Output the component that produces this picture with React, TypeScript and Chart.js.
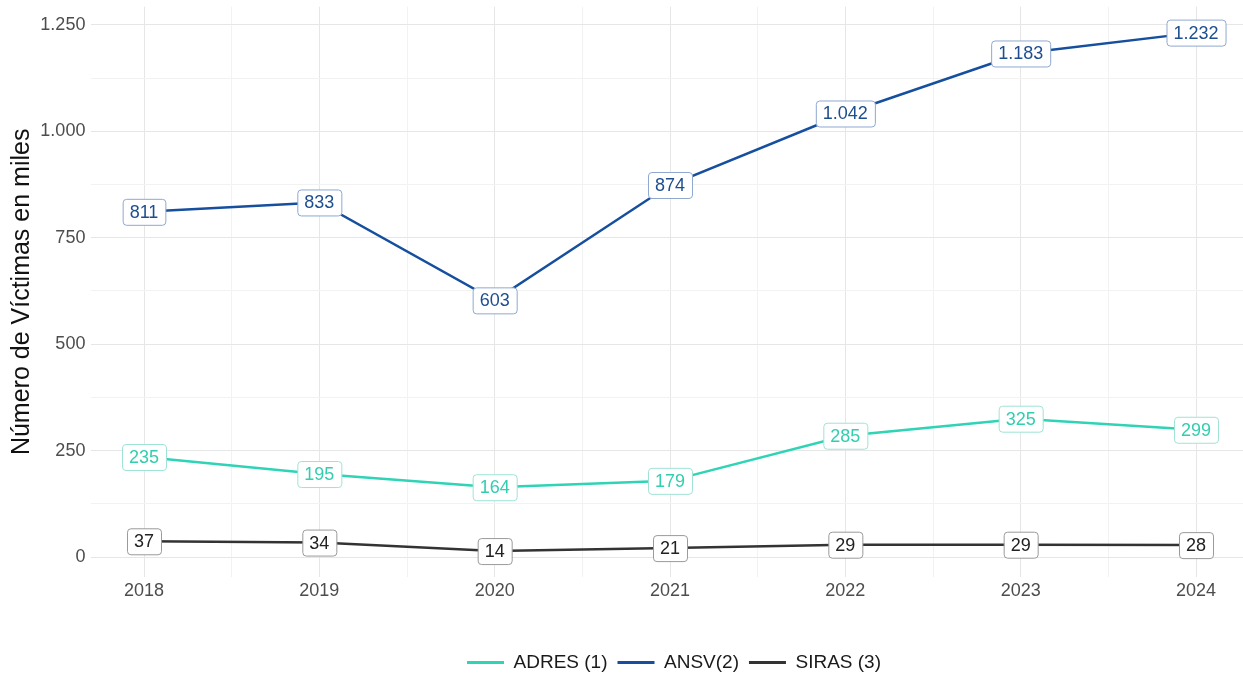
import React, { useEffect, useRef } from "react";
import { Chart, registerables } from "chart.js";

Chart.register(...registerables);

const years = [2018, 2019, 2020, 2021, 2022, 2023, 2024];
const adres = [235, 195, 164, 179, 285, 325, 299];
const ansv = [811, 833, 603, 874, 1042, 1183, 1232];
const siras = [37, 34, 14, 21, 29, 29, 28];
const seriesNames = ["ADRES (1)", "ANSV(2)", "SIRAS (3)"];
const yTickValues = [0, 125, 250, 375, 500, 625, 750, 875, 1000, 1125, 1250];
const xTickValues = [2018, 2018.5, 2019, 2019.5, 2020, 2020.5, 2021, 2021.5, 2022, 2022.5, 2023, 2023.5, 2024];
const yAxisTitle = "Número de Víctimas en miles";

const lineColors = ["#2fd3b5", "#154f9e", "#333333"];
const labelTextColors = ["#33cdb0", "#1d4e8f", "#222222"];
const labelBorderColors = ["#9fe3d6", "#8ea8d0", "#9a9a9a"];

const FONT = '"Liberation Sans", Arial, Helvetica, sans-serif';

function fmt(v: number): string {
  const s = Math.round(v).toString();
  return s.replace(/\B(?=(\d{3})+(?!\d))/g, ".");
}

const labelPlugin = {
  id: "boxLabels",
  afterDatasetsDraw(chart: any) {
    const ctx = chart.ctx;
    ctx.save();
    ctx.font = `18px ${FONT}`;
    ctx.textAlign = "center";
    ctx.textBaseline = "middle";
    chart.data.datasets.forEach((ds: any, i: number) => {
      const meta = chart.getDatasetMeta(i);
      meta.data.forEach((pt: any, j: number) => {
        const text = fmt(ds.data[j].y);
        const tw = ctx.measureText(text).width;
        const w = tw + 14;
        const h = 26;
        const x = pt.x - w / 2;
        const y = pt.y - h / 2;
        ctx.beginPath();
        ctx.roundRect(x + 0.5, y + 0.5, w, h, 3.5);
        ctx.fillStyle = "#ffffff";
        ctx.fill();
        ctx.lineWidth = 1;
        ctx.strokeStyle = labelBorderColors[i];
        ctx.stroke();
        ctx.fillStyle = labelTextColors[i];
        ctx.fillText(text, pt.x, pt.y + 1);
      });
    });
    ctx.restore();
  },
};

// centre the legend under the plot panel rather than the whole canvas
const legendShift = {
  id: "legendShift",
  afterLayout(chart: any) {
    const lg = chart.legend;
    if (!lg) return;
    const panelCenter = (chart.chartArea.left + chart.scales.x.getPixelForValue(2024.3)) / 2 + 4;
    const d = panelCenter - (lg.left + lg.right) / 2;
    lg.left += d;
    lg.right += d;
  },
};

export default function App() {
  const ref = useRef<HTMLCanvasElement>(null);
  useEffect(() => {
    document.body.style.margin = "0";
    const mk = (vals: number[]) => years.map((yr, i) => ({ x: yr, y: vals[i] }));
    const all = [adres, ansv, siras];
    const chart = new Chart(ref.current!, {
      type: "line",
      data: {
        datasets: all.map((vals, i) => ({
          label: seriesNames[i],
          data: mk(vals),
          borderColor: lineColors[i],
          backgroundColor: lineColors[i],
          borderWidth: 2.5,
          pointRadius: 0,
          tension: 0,
        })),
      },
      options: {
        responsive: false,
        animation: false,
        events: [],
        layout: { padding: { top: 6.7, right: 0, left: 0, bottom: 0 } },
        font: { family: FONT },
        plugins: {
          tooltip: { enabled: false },
          legend: {
            position: "bottom",
            maxHeight: 32,
            labels: {
              font: { size: 19, family: FONT },
              color: "#1a1a1a",
              boxWidth: 37,
              boxHeight: 3,
              padding: 10,
              generateLabels: (c: any) =>
                c.data.datasets.map((ds: any, i: number) => ({
                  text: ds.label,
                  fillStyle: ds.borderColor,
                  strokeStyle: ds.borderColor,
                  lineWidth: 0,
                  hidden: false,
                  datasetIndex: i,
                  fontColor: "#1a1a1a",
                })),
            },
          },
        },
        scales: {
          x: {
            type: "linear",
            min: 2017.7,
            max: 2024.268,
            afterBuildTicks: (s: any) => {
              s.ticks = xTickValues.map((v) => ({ value: v }));
            },
            afterFit: (s: any) => {
              s.height = 66;
              s.paddingLeft = 0;
              s.paddingRight = 0;
            },
            grid: {
              drawTicks: false,
              color: (c: any) => (c.tick && Number.isInteger(c.tick.value) ? "#e6e6e6" : "#f2f2f2"),
            },
            border: { display: false },
            ticks: {
              autoSkip: false,
              maxRotation: 0,
              padding: 3,
              color: "#4d4d4d",
              font: { size: 18, family: FONT },
              callback: (v: any) => (Number.isInteger(v) ? String(v) : ""),
            },
          },
          y: {
            type: "linear",
            min: -46.9,
            max: 1292.9,
            afterBuildTicks: (s: any) => {
              s.ticks = yTickValues.map((v) => ({ value: v }));
            },
            afterFit: (s: any) => {
              s.width = 91.4;
              s.paddingTop = 0;
              s.paddingBottom = 0;
            },
            grid: {
              drawTicks: false,
              color: (c: any) => (c.tick && c.tick.value % 250 === 0 ? "#e6e6e6" : "#f2f2f2"),
            },
            border: { display: false },
            title: {
              display: true,
              text: yAxisTitle,
              color: "#111111",
              font: { size: 25, family: FONT, lineHeight: 1 },
              padding: { top: 9.5, bottom: 0 },
            },
            ticks: {
              padding: 6,
              color: "#4d4d4d",
              font: { size: 18, family: FONT },
              callback: (v: any) => (v % 250 === 0 ? fmt(v) : ""),
            },
          },
        },
      },
      plugins: [labelPlugin, legendShift],
    });
    return () => chart.destroy();
  }, []);
  return (
    <div style={{ position: "absolute", left: 0, top: 0, width: 1243, height: 675 }}>
      <canvas ref={ref} width={1243} height={675} style={{ width: 1243, height: 675, display: "block" }} />
    </div>
  );
}
